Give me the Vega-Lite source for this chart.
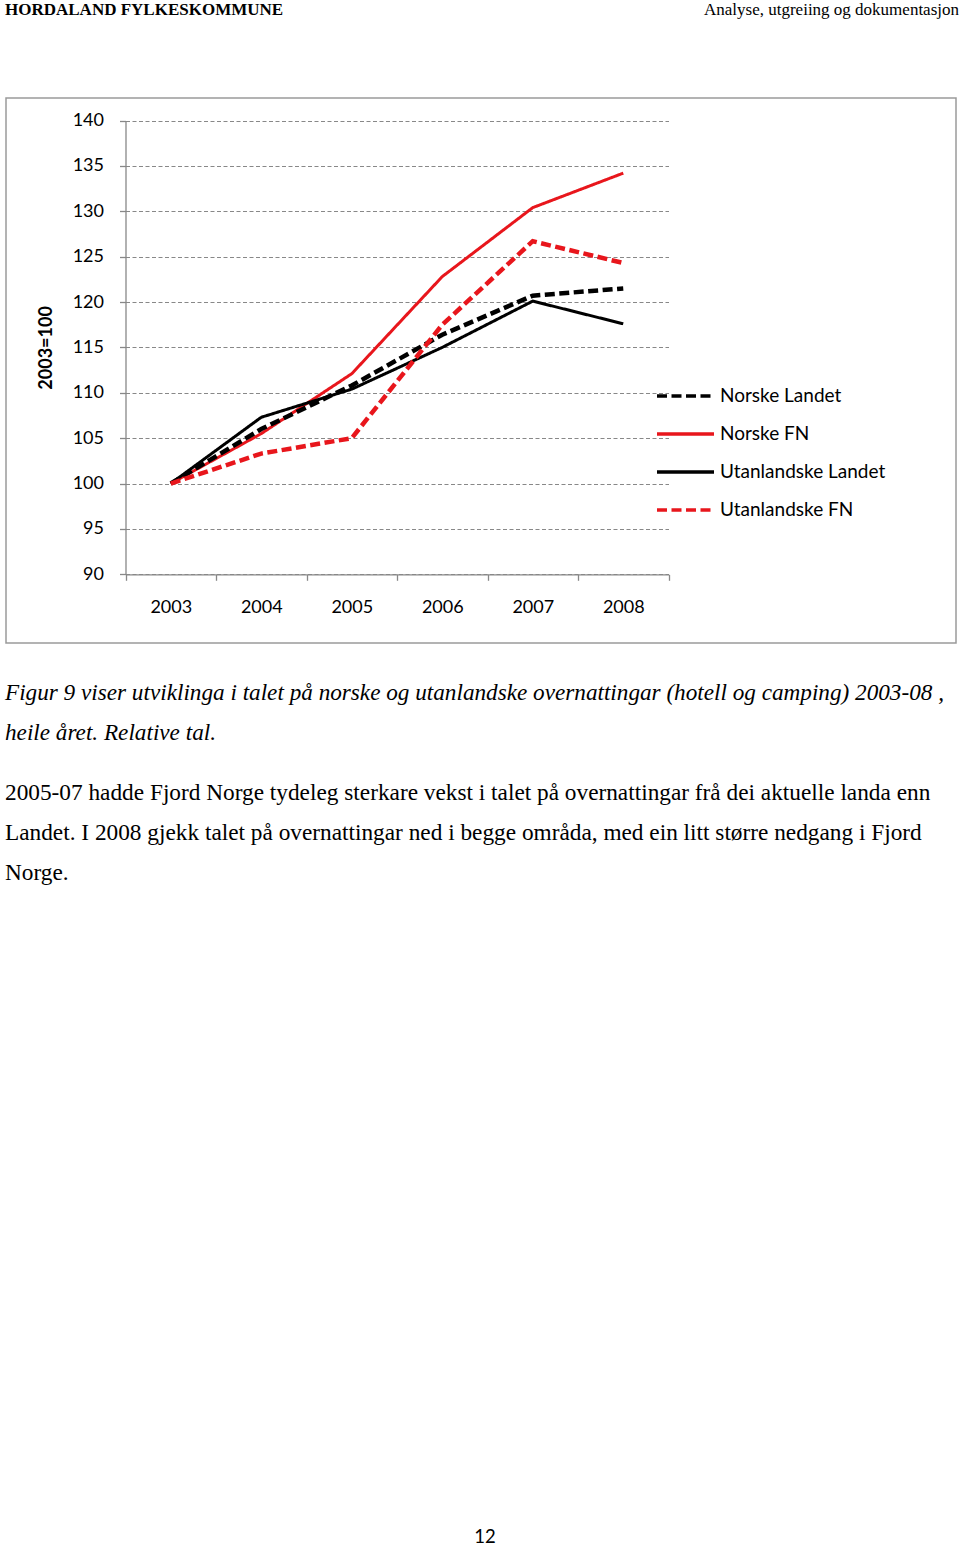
{
  "$schema": "https://vega.github.io/schema/vega-lite/v6.json",
  "padding": {"left": 5, "top": 0, "right": 0, "bottom": 0},
  "spacing": 0,
  "background": "white",
  "config": {
    "view": {"stroke": null},
    "font": "Lato",
    "legend": {
      "orient": "none",
      "legendX": 649,
      "legendY": 385,
      "title": null,
      "padding": 0,
      "symbolType": "stroke",
      "symbolSize": 3249,
      "symbolStrokeWidth": 3.5,
      "labelFont": "Lato",
      "labelFontSize": 19,
      "labelColor": "#000000",
      "labelOffset": 4,
      "labelLimit": 400,
      "clipHeight": 20,
      "rowPadding": 18
    }
  },
  "vconcat": [
    {
      "width": 950,
      "height": 96,
      "data": {"values": [
        {"part": "left", "text": "HORDALAND FYLKESKOMMUNE"},
        {"part": "right", "text": "Analyse, utgreiing og dokumentasjon"}
      ]},
      "layer": [
        {
          "transform": [{"filter": "datum.part === 'left'"}],
          "mark": {"type": "text", "align": "left", "baseline": "top", "font": "Liberation Serif", "fontWeight": "bold", "fontSize": 17, "color": "#000000"},
          "encoding": {
            "text": {"field": "text"},
            "x": {"datum": 0, "type": "quantitative", "scale": {"domain": [0, 1], "range": [-1, 953]}, "axis": null},
            "y": {"datum": 1, "type": "quantitative", "scale": {"domain": [0, 1], "range": [0, 0.5]}, "axis": null}
          }
        },
        {
          "transform": [{"filter": "datum.part === 'right'"}],
          "mark": {"type": "text", "align": "right", "baseline": "top", "font": "Liberation Serif", "fontSize": 17, "color": "#000000"},
          "encoding": {
            "text": {"field": "text"},
            "x": {"datum": 1, "type": "quantitative", "scale": {"domain": [0, 1], "range": [-1, 953]}, "axis": null},
            "y": {"datum": 1, "type": "quantitative", "scale": {"domain": [0, 1], "range": [0, 0.5]}, "axis": null}
          }
        }
      ]
    },
    {
      "width": 950,
      "height": 545,
      "view": {"stroke": "#9a9a9a", "strokeWidth": 1.5},
      "data": {"values": [
        {"series": "Norske Landet", "year": 2003, "index": 100},
        {"series": "Norske Landet", "year": 2004, "index": 106.0},
        {"series": "Norske Landet", "year": 2005, "index": 110.8},
        {"series": "Norske Landet", "year": 2006, "index": 116.4},
        {"series": "Norske Landet", "year": 2007, "index": 120.7},
        {"series": "Norske Landet", "year": 2008, "index": 121.5},
        {"series": "Norske FN", "year": 2003, "index": 100},
        {"series": "Norske FN", "year": 2004, "index": 105.5},
        {"series": "Norske FN", "year": 2005, "index": 112.1},
        {"series": "Norske FN", "year": 2006, "index": 122.8},
        {"series": "Norske FN", "year": 2007, "index": 130.4},
        {"series": "Norske FN", "year": 2008, "index": 134.2},
        {"series": "Utanlandske Landet", "year": 2003, "index": 100},
        {"series": "Utanlandske Landet", "year": 2004, "index": 107.3},
        {"series": "Utanlandske Landet", "year": 2005, "index": 110.4},
        {"series": "Utanlandske Landet", "year": 2006, "index": 115.0},
        {"series": "Utanlandske Landet", "year": 2007, "index": 120.1},
        {"series": "Utanlandske Landet", "year": 2008, "index": 117.6},
        {"series": "Utanlandske FN", "year": 2003, "index": 100},
        {"series": "Utanlandske FN", "year": 2004, "index": 103.3},
        {"series": "Utanlandske FN", "year": 2005, "index": 105.0},
        {"series": "Utanlandske FN", "year": 2006, "index": 117.5},
        {"series": "Utanlandske FN", "year": 2007, "index": 126.7},
        {"series": "Utanlandske FN", "year": 2008, "index": 124.3}
      ]},
      "encoding": {
        "x": {
          "field": "year", "type": "ordinal", "bandPosition": 0.5,
          "scale": {"type": "band", "paddingInner": 0, "paddingOuter": 0, "range": [119.5, 662.5]},
          "axis": {
            "title": null, "offset": -68.7, "labelAngle": 0, "grid": false,
            "domainColor": "#888888", "domainWidth": 1.3, "tickColor": "#888888", "tickWidth": 1.3, "tickSize": 6,
            "tickBand": "extent", "labelFont": "Lato", "labelFontSize": 18, "labelColor": "#000000", "labelPadding": 18
          }
        },
        "y": {
          "field": "index", "type": "quantitative",
          "scale": {"domain": [90, 140], "nice": false, "zero": false, "range": [476.3, 22.5]},
          "axis": {
            "title": "2003=100", "offset": -119.5, "values": [90, 95, 100, 105, 110, 115, 120, 125, 130, 135, 140],
            "domainColor": "#888888", "domainWidth": 1.3, "tickColor": "#888888", "tickWidth": 1.3, "tickSize": 6,
            "grid": true, "gridColor": "#888888", "gridWidth": 1.2, "gridDash": [4, 2.5],
            "labelFont": "Lato", "labelFontSize": 18, "labelColor": "#000000", "labelPadding": 16,
            "titleFont": "Lato", "titleFontSize": 18, "titleFontWeight": "bold", "titleColor": "#000000", "titlePadding": 16.5
          }
        },
        "color": {
          "field": "series", "type": "nominal",
          "scale": {"domain": ["Norske Landet", "Norske FN", "Utanlandske Landet", "Utanlandske FN"], "range": ["#000000", "#e8161c", "#000000", "#e8161c"]}
        },
        "strokeDash": {
          "field": "series", "type": "nominal",
          "scale": {"domain": ["Norske Landet", "Norske FN", "Utanlandske Landet", "Utanlandske FN"], "range": [[10, 4.5], [1, 0], [1, 0], [10, 4.5]]}
        }
      },
      "layer": [
        {
          "transform": [{"filter": {"field": "series", "oneOf": ["Norske FN", "Utanlandske Landet"]}}],
          "mark": {"type": "line", "strokeWidth": 3}
        },
        {
          "transform": [{"filter": {"field": "series", "oneOf": ["Norske Landet", "Utanlandske FN"]}}],
          "mark": {"type": "line", "strokeWidth": 4.5}
        }
      ]
    },
    {
      "width": 950,
      "height": 903,
      "data": {"values": [
        {"block": "caption", "line": 1, "text": "Figur 9 viser utviklinga i talet på norske og utanlandske overnattingar (hotell og camping) 2003-08 ,"},
        {"block": "caption", "line": 2, "text": "heile året. Relative tal."},
        {"block": "body", "line": 1, "text": "2005-07 hadde Fjord Norge tydeleg sterkare vekst i talet på overnattingar frå dei aktuelle landa enn"},
        {"block": "body", "line": 2, "text": "Landet. I 2008 gjekk talet på overnattingar ned i begge områda, med ein litt større nedgang i Fjord"},
        {"block": "body", "line": 3, "text": "Norge."},
        {"block": "page", "line": 1, "text": "12"}
      ]},
      "resolve": {"scale": {"y": "independent"}},
      "layer": [
        {
          "transform": [{"filter": "datum.block === 'caption'"}],
          "mark": {"type": "text", "align": "left", "baseline": "alphabetic", "font": "Liberation Serif", "fontStyle": "italic", "fontSize": 23.2, "color": "#000000"},
          "encoding": {
            "text": {"field": "text"},
            "x": {"datum": 0, "type": "quantitative", "scale": {"domain": [0, 1], "range": [-1, 959]}, "axis": null},
            "y": {"field": "line", "type": "quantitative", "scale": {"domain": [1, 2], "range": [55.8, 95.8]}, "axis": null}
          }
        },
        {
          "transform": [{"filter": "datum.block === 'body'"}],
          "mark": {"type": "text", "align": "left", "baseline": "alphabetic", "font": "Liberation Serif", "fontSize": 23.3, "color": "#000000"},
          "encoding": {
            "text": {"field": "text"},
            "x": {"datum": 0, "type": "quantitative", "scale": {"domain": [0, 1], "range": [-1, 959]}, "axis": null},
            "y": {"field": "line", "type": "quantitative", "scale": {"domain": [1, 3], "range": [155.8, 235.8]}, "axis": null}
          }
        },
        {
          "transform": [{"filter": "datum.block === 'page'"}],
          "mark": {"type": "text", "align": "center", "baseline": "alphabetic", "font": "Lato", "fontSize": 18.5, "color": "#000000"},
          "encoding": {
            "text": {"field": "text"},
            "x": {"datum": 0.5, "type": "quantitative", "scale": {"domain": [0, 1], "range": [-1, 959]}, "axis": null},
            "y": {"field": "line", "type": "quantitative", "scale": {"domain": [0, 1], "range": [0, 899.3]}, "axis": null}
          }
        }
      ]
    }
  ]
}
